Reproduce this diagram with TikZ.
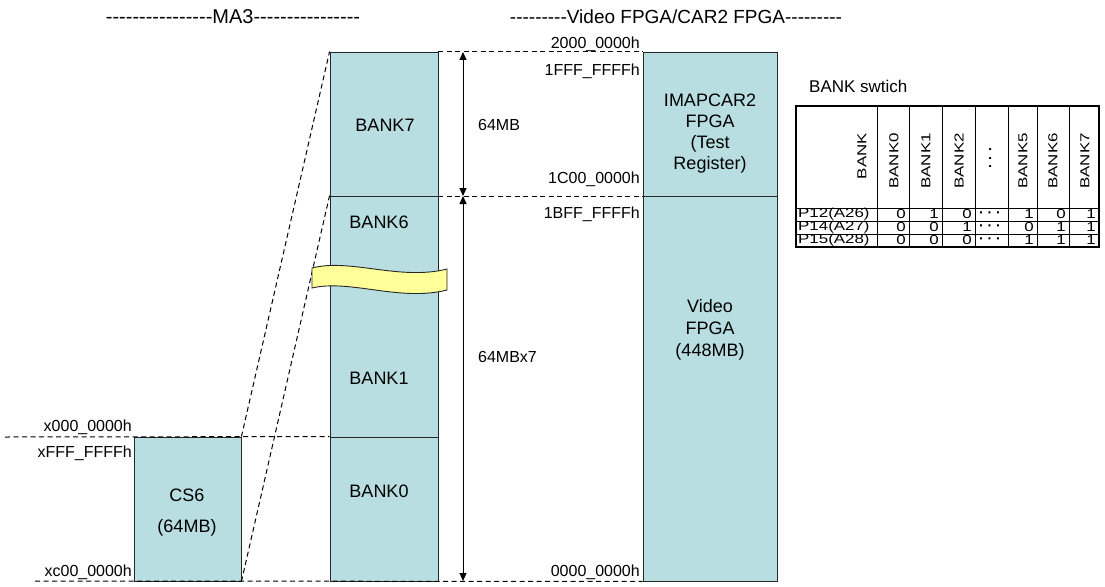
\documentclass[tikz,border=0pt]{standalone}
\usepackage{fontspec}
\setmainfont{Liberation Sans}
\newfontfamily\tabfont[FakeStretch=1.3]{Liberation Sans}
\usetikzlibrary{arrows.meta}
\definecolor{memfill}{RGB}{184,222,226}
\definecolor{tapefill}{RGB}{255,255,153}
\newcommand\dashrun[1]{\foreach\k in {1,...,#1}{-}}
\begin{document}
\begin{tikzpicture}[x=1pt,y=-1pt,
        membox/.style={draw=black!85,fill=memfill,line width=0.9pt,inner sep=0pt},
        memtext/.style={font=\fontsize{18}{21}\selectfont,align=center},
        addr/.style={font=\fontsize{16}{16}\selectfont,anchor=east,inner sep=1pt},
        sizelabel/.style={font=\fontsize{16}{16}\selectfont,anchor=west,inner sep=0pt},
        guide/.style={dash pattern=on 5pt off 3.5pt,line width=1pt},
        span/.style={{Triangle[length=8pt,width=7pt]}-{Triangle[length=8pt,width=7pt]},line width=1pt},
        head/.style={font=\fontsize{20}{20}\selectfont},
        tabhead/.style={font=\tabfont\fontsize{13}{13}\selectfont,rotate=90,anchor=east,inner sep=0pt},
        tabcell/.style={font=\tabfont\fontsize{13}{13}\selectfont,anchor=east,inner sep=0pt},
        tabdots/.style={font=\bfseries\fontsize{14}{14}\selectfont,inner sep=0pt}]
    \useasboundingbox (0,0) rectangle (1105,586);

    \node[head] (ma3) at (233,17) {\dashrun{16}MA3\dashrun{16}};
    \node[head,font=\fontsize{19}{19}\selectfont] (fpga) at (676,17) {\dashrun{9}Video FPGA/CAR2 FPGA\dashrun{9}};

    \coordinate (g0) at (5,437);
    \coordinate (g1) at (35,581);
    \coordinate (a0) at (463,52);
    \coordinate (a1) at (463,196);
    \coordinate (a2) at (463,581);

    \node[membox,minimum width=107,minimum height=144] (cs6) at (187.5,509) {};
    \node[membox,minimum width=108,minimum height=144] (bank7) at (384,124) {};
    \node[membox,minimum width=108,minimum height=241] (bank61) at (384,316.5) {};
    \node[membox,minimum width=108,minimum height=144] (bank0) at (384,509) {};
    \node[membox,minimum width=134,minimum height=144] (car2) at (710,124) {};
    \node[membox,minimum width=134,minimum height=385] (video) at (710,388.5) {};

    \draw[guide] (g0) to (bank0.north west);
    \draw[guide] (g1) to (video.south west);
    \draw[guide] (bank7.north east) to (car2.north west);
    \draw[guide] (bank7.south east) to (car2.south west);
    \draw[guide] (cs6.north east) to (bank7.north west);
    \draw[guide] (cs6.south east) to (bank61.north west);

    \draw[fill=tapefill,draw=black!85,line width=0.9pt] (312,268) .. controls (350,258) and (400,281) .. (447,269)
        -- (447,290) .. controls (400,302) and (350,279) .. (312,288) -- cycle;

    \node[memtext] (l7) at (385,125) {BANK7};
    \node[memtext] (l6) at (379,222) {BANK6};
    \node[memtext] (l1) at (379,378) {BANK1};
    \node[memtext] (l0) at (379,491) {BANK0};
    \node[memtext,font=\fontsize{18}{31}\selectfont] (lcs) at (187,512.5) {CS6\\(64MB)};
    \node[memtext] (lcar) at (710,134) {IMAPCAR2\\FPGA\\(Test\\Register)};
    \node[memtext,font=\fontsize{18}{22}\selectfont] (lvid) at (710,330) {Video\\FPGA\\(448MB)};

    \draw[span] (a0) to (a1);
    \draw[span] (a1) to (a2);
    \node[sizelabel] (s7) at (478,125) {64MB};
    \node[sizelabel] (s61) at (478,357) {64MBx7};

    \node[addr] (ad1) at (641,44) {2000\_0000h};
    \node[addr] (ad2) at (641,71) {1FFF\_FFFFh};
    \node[addr] (ad3) at (641,179) {1C00\_0000h};
    \node[addr] (ad4) at (641,214) {1BFF\_FFFFh};
    \node[addr] (ad5) at (641,572) {0000\_0000h};
    \node[addr] (ad6) at (133,427) {x000\_0000h};
    \node[addr] (ad7) at (133,453) {xFFF\_FFFFh};
    \node[addr] (ad8) at (133,572) {xc00\_0000h};

    \node[anchor=west,font=\fontsize{17}{17}\selectfont,inner sep=0pt] (sw) at (809,86) {BANK swtich};
    \draw[line width=1.2pt] (796,106) rectangle (1099,247);
    \draw[line width=1pt] (877,106) -- (877,247) (909,106) -- (909,247) (942,106) -- (942,247)
        (975,106) -- (975,247) (1008,106) -- (1008,247) (1037,106) -- (1037,247) (1069,106) -- (1069,247);
    \draw[line width=1pt] (796,208) -- (1099,208) (796,221) -- (1099,221) (796,234) -- (1099,234);

    \node[tabhead] (hb) at (862,133) {BANK};
    \node[tabhead] (h0) at (894,133) {BANK0};
    \node[tabhead] (h1) at (926,133) {BANK1};
    \node[tabhead] (h2) at (959,133) {BANK2};
    \node[tabdots,rotate=90] (hd) at (992,158) {· · ·};
    \node[tabhead] (h5) at (1023,133) {BANK5};
    \node[tabhead] (h6) at (1053,133) {BANK6};
    \node[tabhead] (h7) at (1085,133) {BANK7};

    \node[tabcell,anchor=west] (r1) at (798,214.5) {P12(A26)};
    \node[tabcell,anchor=west] (r2) at (798,227.5) {P14(A27)};
    \node[tabcell,anchor=west] (r3) at (798,240.5) {P15(A28)};

    \node[tabcell] (c10) at (906,214.5) {0};
    \node[tabcell] (c11) at (939,214.5) {1};
    \node[tabcell] (c12) at (972,214.5) {0};
    \node[tabdots] (c1d) at (990,214.5) {· · ·};
    \node[tabcell] (c15) at (1034,214.5) {1};
    \node[tabcell] (c16) at (1066,214.5) {0};
    \node[tabcell] (c17) at (1096,214.5) {1};

    \node[tabcell] (c20) at (906,227.5) {0};
    \node[tabcell] (c21) at (939,227.5) {0};
    \node[tabcell] (c22) at (972,227.5) {1};
    \node[tabdots] (c2d) at (990,227.5) {· · ·};
    \node[tabcell] (c25) at (1034,227.5) {0};
    \node[tabcell] (c26) at (1066,227.5) {1};
    \node[tabcell] (c27) at (1096,227.5) {1};

    \node[tabcell] (c30) at (906,240.5) {0};
    \node[tabcell] (c31) at (939,240.5) {0};
    \node[tabcell] (c32) at (972,240.5) {0};
    \node[tabdots] (c3d) at (990,240.5) {· · ·};
    \node[tabcell] (c35) at (1034,240.5) {1};
    \node[tabcell] (c36) at (1066,240.5) {1};
    \node[tabcell] (c37) at (1096,240.5) {1};
\end{tikzpicture}
\end{document}
